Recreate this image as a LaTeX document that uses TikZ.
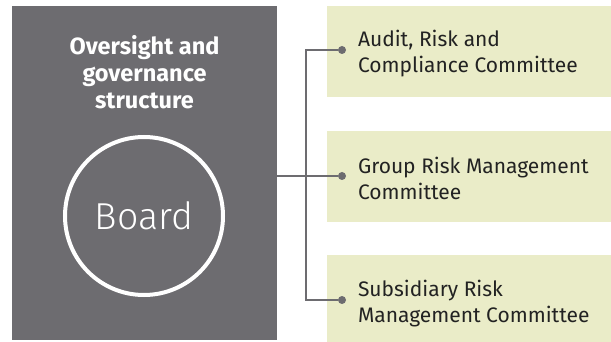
\documentclass[tikz,border=0pt]{standalone}
\usepackage{fontspec}
\setmainfont{Fira Sans}
\newfontfamily\thinfont{Fira Sans Light}
\usetikzlibrary{positioning}

\definecolor{govgray}{HTML}{6D6C70}
\definecolor{boxgreen}{HTML}{EAECC8}
\definecolor{inkdark}{HTML}{222222}

\begin{document}
\begin{tikzpicture}[
    x=1pt, y=-1pt,
    every node/.style={inner sep=0pt, outer sep=0pt},
    panel/.style={fill=govgray, minimum width=265pt, minimum height=334pt},
    committee/.style={fill=boxgreen, minimum width=284pt},
    dot/.style={circle, fill=govgray, minimum size=8pt},
    link/.style={draw=govgray, line width=2pt},
    label/.style={align=left, text=inkdark, font=\fontsize{21}{26}\selectfont}
]
\useasboundingbox (0,0) rectangle (611,342);

% 左侧面板
\node[panel] (govbox) at (144.5,173) {};
\node[align=center, text=white, font=\fontsize{23.5}{27}\selectfont\bfseries] (title) at (144.5,72)
    {Oversight and\\governance\\structure};
\node[circle, draw=white, line width=4pt, minimum size=158pt, text=white,
    font=\thinfont\fontsize{37.5}{40}\selectfont] (board) at (144,216) {Board};

% 右侧委员会
\node[committee, minimum height=91pt] (arc) at (469,51.5) {};
\node[committee, minimum height=91pt] (grm) at (469,176.5) {};
\node[committee, minimum height=87pt] (srm) at (469,298.5) {};

% 连接点
\node[dot] (dotA) at (342,50) {};
\node[dot] (dotB) at (342,176) {};
\node[dot] (dotC) at (342,300) {};
\coordinate (busTop) at (306,50);
\coordinate (busBot) at (306,300);

% 委员会文字
\node[label, right=12pt of dotA, yshift=-4pt] (arcText) {Audit, Risk and\\Compliance Committee};
\node[label, right=12pt of dotB, yshift=-2pt] (grmText) {Group Risk Management\\Committee};
\node[label, right=12pt of dotC, yshift=-4pt] (srmText) {Subsidiary Risk\\Management Committee};

% 连接线
\draw[link] (govbox.east |- dotB) -- (dotB);
\draw[link] (dotA) -- (busTop) -- (busBot) -- (dotC);

\end{tikzpicture}
\end{document}
